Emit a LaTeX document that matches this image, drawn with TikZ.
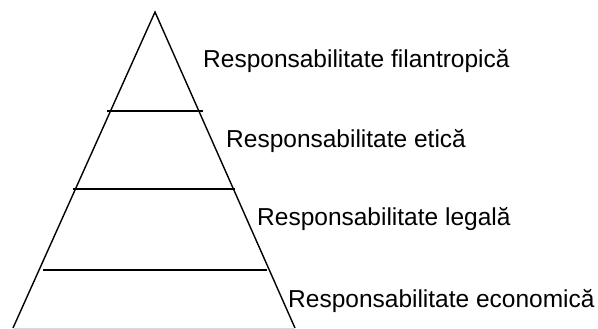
\documentclass[tikz,border=0pt]{standalone}
\usepackage{fontspec}
\setmainfont{Liberation Sans}
\begin{document}
\begin{tikzpicture}[x=1pt,y=-1pt,
  edge/.style={line width=1.4pt,black},
  level/.style={line width=1.6pt,black},
  lbl/.style={anchor=base west,inner sep=0pt,font=\fontsize{24.5}{28}\selectfont}]
\useasboundingbox (0,0) rectangle (598,329);
\coordinate (apex) at (155,12);
\coordinate (bl) at (13,328);
\coordinate (br) at (295,328);
\draw[edge] (bl) -- (apex) -- (br);
\draw[line width=1pt,black!15] (bl) -- (br);
\coordinate (a1) at (107,111); \coordinate (b1) at (203,111);
\coordinate (a2) at (73,189); \coordinate (b2) at (235,189);
\coordinate (a3) at (43,270); \coordinate (b3) at (267,270);
\draw[level] (a1) -- (b1);
\draw[level] (a2) -- (b2);
\draw[level] (a3) -- (b3);
\node[lbl] (t1) at (203,68) {Responsabilitate filantropică};
\node[lbl] (t2) at (226,147) {Responsabilitate etică};
\node[lbl] (t3) at (257,225) {Responsabilitate legală};
\node[lbl] (t4) at (288,307) {Responsabilitate economică};
\end{tikzpicture}
\end{document}
